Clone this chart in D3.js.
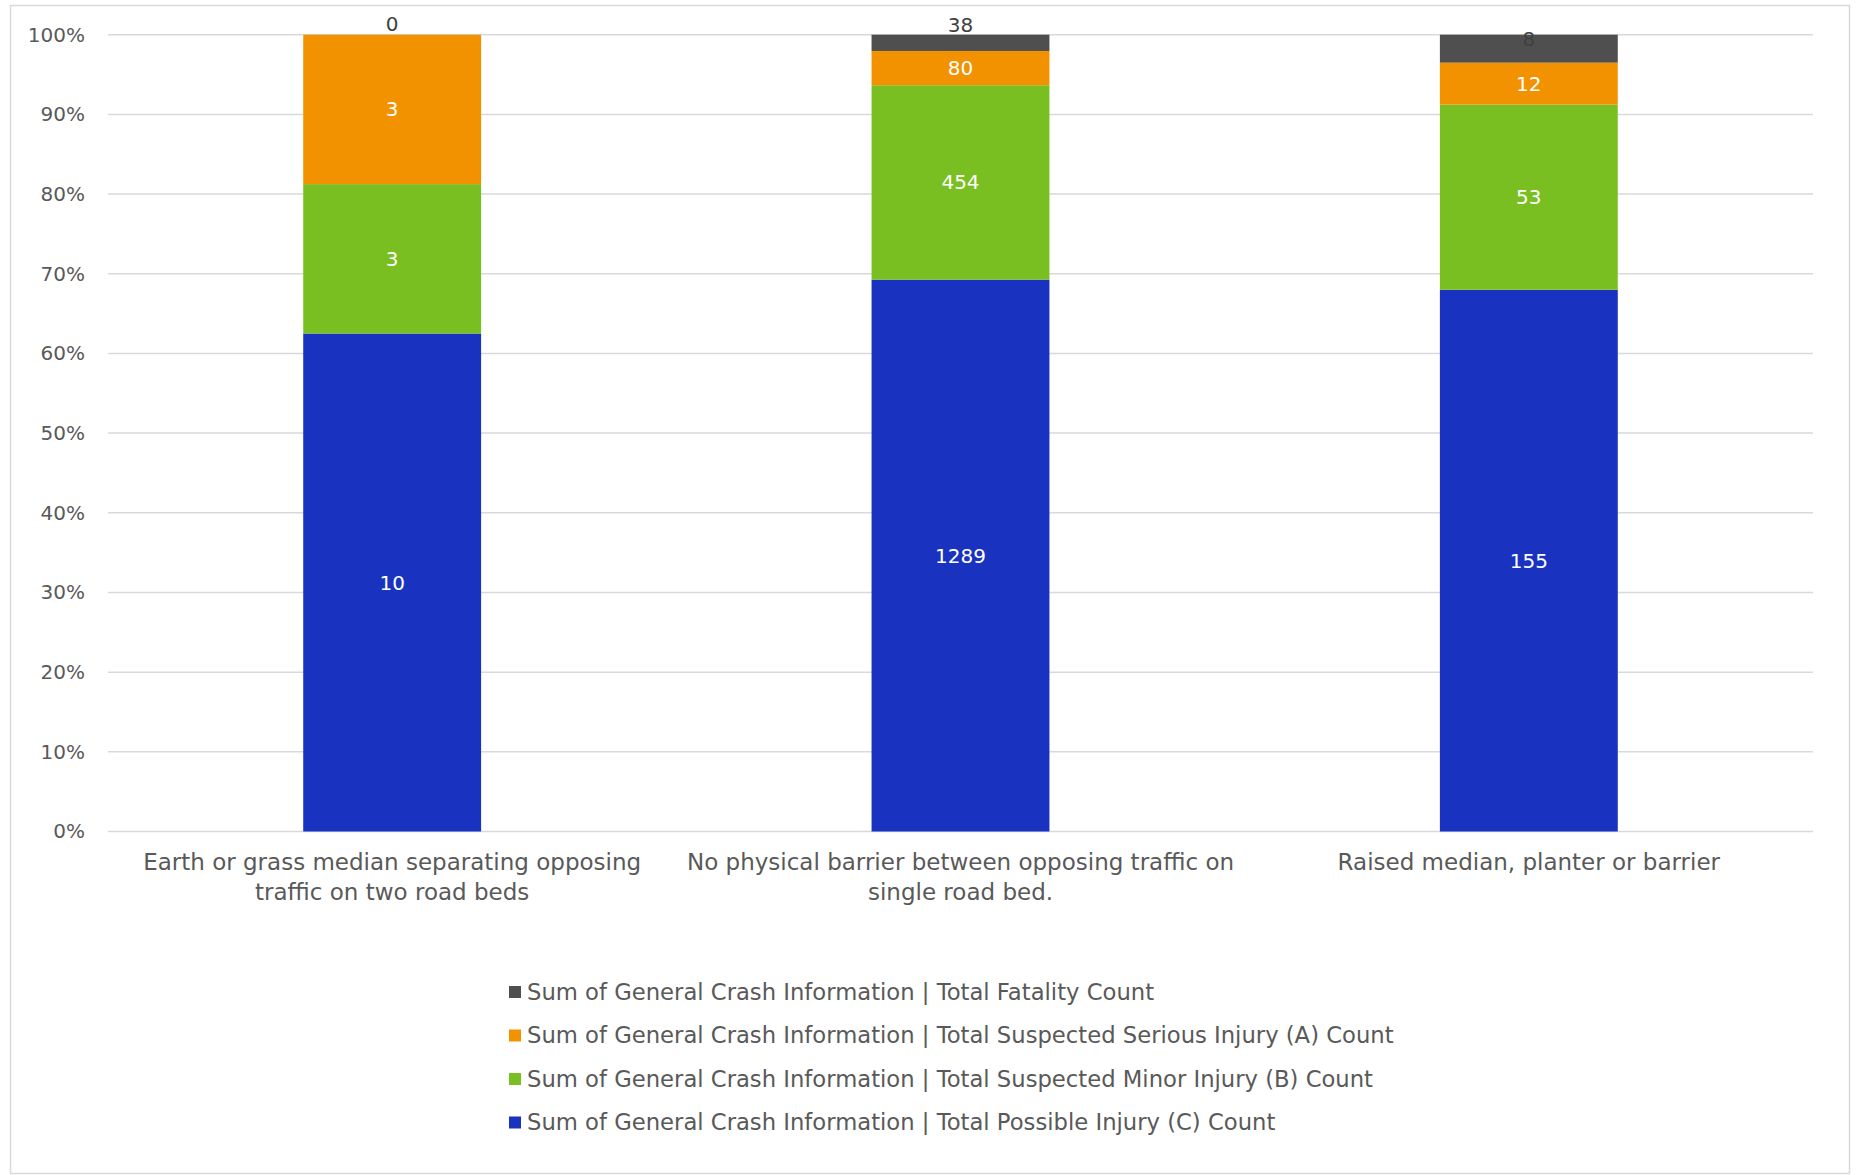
<!DOCTYPE html>
<html>
<head>
<meta charset="utf-8">
<script src="https://cdn.jsdelivr.net/npm/d3@7"></script>
<style>
  html, body { margin: 0; padding: 0; background: #ffffff; }
  svg { display: block; }
  text { font-family: "DejaVu Sans", sans-serif; }
</style>
</head>
<body>
<svg id="chart" width="1857" height="1175"></svg>
<script>
// Median type categories (two-line axis labels)
const categories = [
  ["Earth or grass median separating opposing", "traffic on two road beds"],
  ["No physical barrier between opposing traffic on", "single road bed."],
  ["Raised median, planter or barrier"]
];

// Crash counts per category, stacked bottom to top
const possibleInjuryC = [10, 1289, 155];
const minorInjuryB    = [3, 454, 53];
const seriousInjuryA  = [3, 80, 12];
const fatalityCount   = [0, 38, 8];

const seriesNames = [
  "Sum of General Crash Information | Total Possible Injury (C) Count",
  "Sum of General Crash Information | Total Suspected Minor Injury (B) Count",
  "Sum of General Crash Information | Total Suspected Serious Injury (A) Count",
  "Sum of General Crash Information | Total Fatality Count"
];

const yTicks = [0, 0.1, 0.2, 0.3, 0.4, 0.5, 0.6, 0.7, 0.8, 0.9, 1.0];

// Series styling
const seriesColors = ["#1a32c0", "#7abf21", "#f39200", "#4f4f4f"];
const labelColors  = ["#ffffff", "#ffffff", "#ffffff", "#404040"];
// Small vertical nudges for the thin top-segment labels
const topLabelNudge = [-11, -18, -10];

const seriesValues = [possibleInjuryC, minorInjuryB, seriousInjuryA, fatalityCount];

const svg = d3.select("#chart");

// Chart frame
svg.append("rect")
  .attr("x", 10.5).attr("y", 5.5)
  .attr("width", 1839).attr("height", 1168)
  .attr("fill", "#ffffff")
  .attr("stroke", "#d9d9d9").attr("stroke-width", 1.5);

const plot = { left: 108, right: 1813, top: 34.7, bottom: 831.5 };

const x = d3.scaleBand()
  .domain(d3.range(categories.length))
  .range([plot.left, plot.right])
  .padding(0);

const barWidth = x.bandwidth() * 0.313;

const y = d3.scaleLinear().domain([0, 1]).range([plot.bottom, plot.top]);

// Gridlines
svg.append("g")
  .selectAll("line")
  .data(yTicks)
  .join("line")
  .attr("x1", plot.left).attr("x2", plot.right)
  .attr("y1", d => y(d)).attr("y2", d => y(d))
  .attr("stroke", "#d9d9d9").attr("stroke-width", 1.5);

// Y axis labels
const yAxis = d3.axisLeft(y)
  .tickValues(yTicks)
  .tickFormat(d3.format(".0%"))
  .tickSize(0)
  .tickPadding(0);

const yAxisG = svg.append("g")
  .attr("transform", `translate(${plot.left - 23},0)`)
  .call(yAxis);
yAxisG.select(".domain").remove();
yAxisG.selectAll("text")
  .attr("fill", "#595959")
  .style("font-size", "20px")
  .style("font-family", "\"DejaVu Sans\", sans-serif");

// Stack as percentages of each category total
const rows = categories.map((c, i) => {
  const total = d3.sum(seriesValues, s => s[i]);
  const row = { idx: i, total };
  seriesValues.forEach((s, k) => { row["s" + k] = s[i] / total; row["v" + k] = s[i]; });
  return row;
});

const stack = d3.stack().keys(seriesValues.map((s, k) => "s" + k));
const stacked = stack(rows);

const layers = svg.append("g")
  .selectAll("g")
  .data(stacked)
  .join("g")
  .attr("fill", (d, k) => seriesColors[k]);

layers.selectAll("rect")
  .data(d => d)
  .join("rect")
  .attr("x", d => x(d.data.idx) + (x.bandwidth() - barWidth) / 2)
  .attr("width", barWidth)
  .attr("y", d => y(d[1]))
  .attr("height", d => y(d[0]) - y(d[1]));

// Value labels
const labels = svg.append("g");
stacked.forEach((layer, k) => {
  labels.selectAll(null)
    .data(layer)
    .join("text")
    .attr("x", d => x(d.data.idx) + x.bandwidth() / 2)
    .attr("y", d => {
      const mid = (y(d[0]) + y(d[1])) / 2;
      return k === seriesValues.length - 1 ? mid + topLabelNudge[d.data.idx] : mid;
    })
    .attr("dy", "0.35em")
    .attr("text-anchor", "middle")
    .attr("fill", labelColors[k])
    .style("font-size", "20px")
    .text(d => d.data["v" + k]);
});

// Category axis labels
const catG = svg.append("g");
categories.forEach((lines, i) => {
  const t = catG.append("text")
    .attr("x", x(i) + x.bandwidth() / 2)
    .attr("y", 862)
    .attr("text-anchor", "middle")
    .attr("fill", "#595959")
    .style("font-size", "23px");
  lines.forEach((ln, j) => {
    t.append("tspan")
      .attr("x", x(i) + x.bandwidth() / 2)
      .attr("y", 862 + j * 30)
      .attr("dy", "0.35em")
      .text(ln);
  });
});

// Legend (top entry is the top of the stack)
const legendOrder = [3, 2, 1, 0];
const legend = svg.append("g");
legendOrder.forEach((k, r) => {
  const cy = 992 + r * 43.5;
  legend.append("rect")
    .attr("x", 509).attr("y", cy - 6)
    .attr("width", 12).attr("height", 12)
    .attr("fill", seriesColors[k]);
  legend.append("text")
    .attr("x", 527).attr("y", cy)
    .attr("dy", "0.35em")
    .attr("fill", "#595959")
    .style("font-size", "22.7px")
    .text(seriesNames[k]);
});
</script>
</body>
</html>
